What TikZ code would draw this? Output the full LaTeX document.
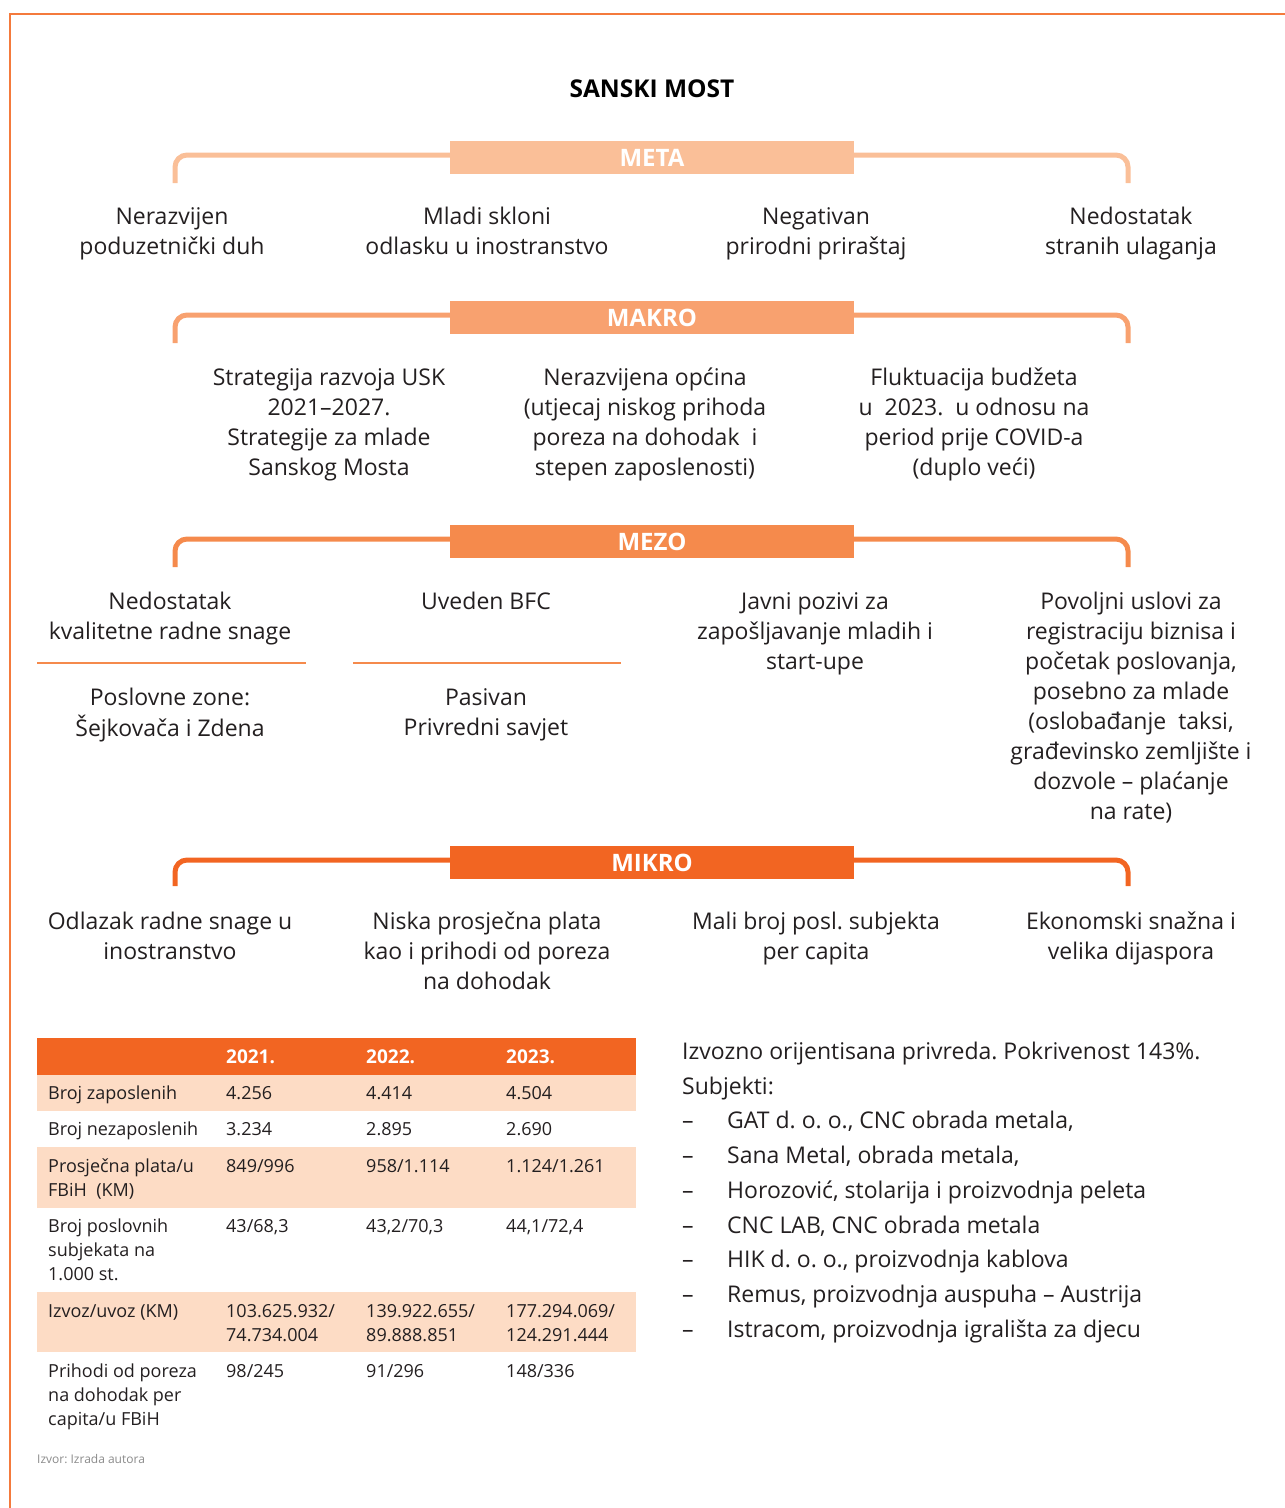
\documentclass[tikz,border=0pt]{standalone}
\usepackage{fontspec}
\setmainfont{Open Sans}
\frenchspacing
\definecolor{cmeta}{HTML}{FABF98}
\definecolor{cmakro}{HTML}{F8A16F}
\definecolor{cmezo}{HTML}{F58A4C}
\definecolor{cmikro}{HTML}{F26522}
\definecolor{cborder}{HTML}{F47A3C}
\definecolor{crow}{HTML}{FDDCC5}
\definecolor{ctext}{HTML}{231F20}
\definecolor{cgray}{HTML}{8A8A8A}
\tikzset{
  lvl/.style={minimum width=404, minimum height=33, inner sep=0, text=white,
    font=\bfseries\fontsize{24}{24}\selectfont},
  brk/.style={line width=5, rounded corners=12},
  body/.style={align=center, anchor=north, inner sep=0,
    font=\fontsize{23}{30}\selectfont, text=ctext},
  tcell/.style={align=left, anchor=north west, inner sep=0,
    font=\fontsize{18}{24}\selectfont, text=ctext},
  thead/.style={anchor=north west, inner sep=0, text=white,
    font=\bfseries\fontsize{19}{24}\selectfont},
}
\begin{document}
\begin{tikzpicture}[x=1pt,y=-1pt]
\useasboundingbox (0,0) rectangle (1285,1508);
% border
\coordinate (bTR) at (1290,14);
\coordinate (bTL) at (10,14);
\coordinate (bBL) at (10,1515);
\draw[cborder, line width=2] (bTR) -- (bTL) -- (bBL);

% title
\node[anchor=base, inner sep=0, font=\bfseries\fontsize{24.5}{24.5}\selectfont, text=black] (title) at (652,97) {SANSKI MOST};

% ---------- META ----------
\coordinate (mBL) at (175,183); \coordinate (mTL) at (175,155);
\coordinate (mTR) at (1128,155); \coordinate (mBR) at (1128,183);
\draw[brk, cmeta] (mBL) -- (mTL) -- (mTR) -- (mBR);
\node[lvl, fill=cmeta] (meta) at (652,157.5) {META};
\node[body] (me1) at (172,203) {\strut Nerazvijen\\poduzetnički duh};
\node[body] (me2) at (487,203) {\strut Mladi skloni\\odlasku u inostranstvo};
\node[body] (me3) at (816,203) {\strut Negativan\\prirodni priraštaj};
\node[body] (me4) at (1131,203) {\strut Nedostatak\\stranih ulaganja};

% ---------- MAKRO ----------
\coordinate (aBL) at (175,343); \coordinate (aTL) at (175,315);
\coordinate (aTR) at (1128,315); \coordinate (aBR) at (1128,343);
\draw[brk, cmakro] (aBL) -- (aTL) -- (aTR) -- (aBR);
\node[lvl, fill=cmakro] (makro) at (652,317.5) {MAKRO};
\node[body] (ma1) at (329,364) {\strut Strategija razvoja USK\\2021–2027.\\Strategije za mlade\\Sanskog Mosta};
\node[body] (ma2) at (645,364) {\strut Nerazvijena općina\\(utjecaj niskog prihoda\\poreza na dohodak\ \ i\\stepen zaposlenosti)};
\node[body] (ma3) at (974,364) {\strut Fluktuacija budžeta\\u\ \ 2023.\ \ u odnosu na\\period prije COVID-a\\(duplo veći)};

% ---------- MEZO ----------
\coordinate (zBL) at (175,567); \coordinate (zTL) at (175,539);
\coordinate (zTR) at (1128,539); \coordinate (zBR) at (1128,567);
\draw[brk, cmezo] (zBL) -- (zTL) -- (zTR) -- (zBR);
\node[lvl, fill=cmezo] (mezo) at (652,541.5) {MEZO};
\node[body] (mz1) at (170,588) {\strut Nedostatak\\kvalitetne radne snage};
\node[body] (mz2) at (486,588) {\strut Uveden BFC};
\node[body] (mz3) at (815,588) {\strut Javni pozivi za\\zapošljavanje mladih i\\start-upe};
\node[body] (mz4) at (1131,588) {\strut Povoljni uslovi za\\registraciju biznisa i\\početak poslovanja,\\posebno za mlade\\(oslobađanje\ \ taksi,\\građevinsko zemljište i\\dozvole – plaćanje\\na rate)};
\coordinate (s1a) at (37,663); \coordinate (s1b) at (306,663);
\coordinate (s2a) at (353,663); \coordinate (s2b) at (621,663);
\draw[cmezo, line width=2.5] (s1a) -- (s1b);
\draw[cmezo, line width=2.5] (s2a) -- (s2b);
\node[body] (mz5) at (170,684) {\strut Poslovne zone:\\Šejkovača i Zdena};
\node[body] (mz6) at (486,684) {\strut Pasivan\\Privredni savjet};

% ---------- MIKRO ----------
\coordinate (iBL) at (175,886); \coordinate (iTL) at (175,860);
\coordinate (iTR) at (1128,860); \coordinate (iBR) at (1128,886);
\draw[brk, cmikro] (iBL) -- (iTL) -- (iTR) -- (iBR);
\node[lvl, fill=cmikro] (mikro) at (652,862.5) {MIKRO};
\node[body] (mi1) at (170,908) {\strut Odlazak radne snage u\\inostranstvo};
\node[body] (mi2) at (487,908) {\strut Niska prosječna plata\\kao i prihodi od poreza\\na dohodak};
\node[body] (mi3) at (816,908) {\strut Mali broj posl. subjekta\\per capita};
\node[body] (mi4) at (1131,908) {\strut Ekonomski snažna i\\velika dijaspora};

% ---------- TABLE ----------
\fill[cmikro] (37,1038) rectangle (636,1075);
\fill[crow] (37,1075) rectangle (636,1111);
\fill[crow] (37,1147) rectangle (636,1208);
\fill[crow] (37,1292) rectangle (636,1352);
\node[thead] (h1) at (226,1046.7) {\strut 2021.};
\node[thead] (h2) at (366,1046.7) {\strut 2022.};
\node[thead] (h3) at (506,1046.7) {\strut 2023.};
% row 1
\node[tcell] (r1a) at (48,1082.7) {\strut Broj zaposlenih};
\node[tcell] (r1b) at (226,1082.7) {\strut 4.256};
\node[tcell] (r1c) at (366,1082.7) {\strut 4.414};
\node[tcell] (r1d) at (506,1082.7) {\strut 4.504};
% row 2
\node[tcell] (r2a) at (48,1118.7) {\strut Broj nezaposlenih};
\node[tcell] (r2b) at (226,1118.7) {\strut 3.234};
\node[tcell] (r2c) at (366,1118.7) {\strut 2.895};
\node[tcell] (r2d) at (506,1118.7) {\strut 2.690};
% row 3
\node[tcell] (r3a) at (48,1155.2) {\strut Prosječna plata/u\\FBiH\ \ (KM)};
\node[tcell] (r3b) at (226,1155.2) {\strut 849/996};
\node[tcell] (r3c) at (366,1155.2) {\strut 958/1.114};
\node[tcell] (r3d) at (506,1155.2) {\strut 1.124/1.261};
% row 4
\node[tcell] (r4a) at (48,1215.2) {\strut Broj poslovnih\\subjekata na\\1.000 st.};
\node[tcell] (r4b) at (226,1215.2) {\strut 43/68,3};
\node[tcell] (r4c) at (366,1215.2) {\strut 43,2/70,3};
\node[tcell] (r4d) at (506,1215.2) {\strut 44,1/72,4};
% row 5
\node[tcell] (r5a) at (48,1300.2) {\strut Izvoz/uvoz (KM)};
\node[tcell] (r5b) at (226,1300.2) {\strut 103.625.932/\\74.734.004};
\node[tcell] (r5c) at (366,1300.2) {\strut 139.922.655/\\89.888.851};
\node[tcell] (r5d) at (506,1300.2) {\strut 177.294.069/\\124.291.444};
% row 6
\node[tcell] (r6a) at (48,1360.2) {\strut Prihodi od poreza\\na dohodak per\\capita/u FBiH};
\node[tcell] (r6b) at (226,1360.2) {\strut 98/245};
\node[tcell] (r6c) at (366,1360.2) {\strut 91/296};
\node[tcell] (r6d) at (506,1360.2) {\strut 148/336};

% source
\node[anchor=base west, inner sep=0, font=\fontsize{12}{14}\selectfont, text=cgray] (src) at (37,1463) {Izvor: Izrada autora};

% ---------- right text ----------
\node[anchor=north west, align=left, inner sep=0, font=\fontsize{23}{34.7}\selectfont, text=ctext] (list) at (682,1035) {\strut Izvozno orijentisana privreda. Pokrivenost 143\%.\\
Subjekti:\\
\makebox[45pt][l]{–}GAT d. o. o., CNC obrada metala,\\
\makebox[45pt][l]{–}Sana Metal, obrada metala,\\
\makebox[45pt][l]{–}Horozović, stolarija i proizvodnja peleta\\
\makebox[45pt][l]{–}CNC LAB, CNC obrada metala\\
\makebox[45pt][l]{–}HIK d. o. o., proizvodnja kablova\\
\makebox[45pt][l]{–}Remus, proizvodnja auspuha – Austrija\\
\makebox[45pt][l]{–}Istracom, proizvodnja igrališta za djecu};
\end{tikzpicture}
\end{document}
